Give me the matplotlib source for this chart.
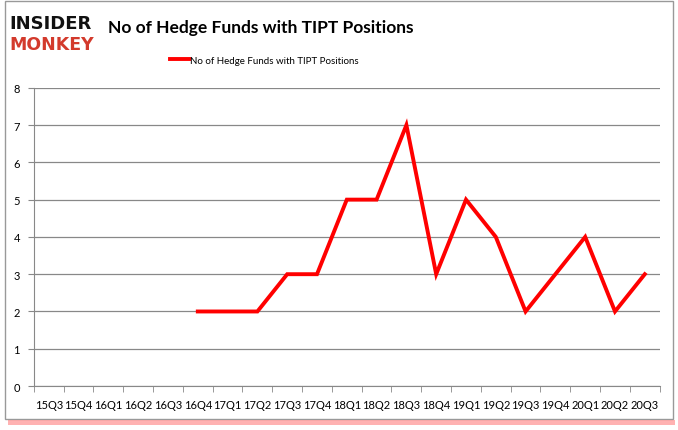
import matplotlib.pyplot as plt
from matplotlib.patches import Rectangle

# quarters on the x axis
quarters = ["15Q3", "15Q4", "16Q1", "16Q2", "16Q3", "16Q4", "17Q1", "17Q2", "17Q3",
            "17Q4", "18Q1", "18Q2", "18Q3", "18Q4", "19Q1", "19Q2", "19Q3", "19Q4",
            "20Q1", "20Q2", "20Q3"]
# hedge fund counts (no data before 16Q4)
funds = [None, None, None, None, None, 2, 2, 2, 3, 3, 5, 5, 7, 3, 5, 4, 2, 3, 4, 2, 3]

plt.rcParams['font.family'] = ['Lato', 'DejaVu Sans']

fig = plt.figure(figsize=(6.78, 4.31), dpi=100)
ax = fig.add_axes([0.050, 0.102, 0.923, 0.692])

xs = [i for i, v in enumerate(funds) if v is not None]
ys = [v for v in funds if v is not None]
line, = ax.plot(xs, ys, color="#ff0000", linewidth=2.8, solid_joinstyle="miter",
                label="No of Hedge Funds with TIPT Positions")

ax.set_xlim(-0.5, len(quarters) - 0.5)
ax.set_ylim(0, 8)
ax.set_yticks(range(0, 9))
ax.set_xticks(range(len(quarters)))
ax.set_xticklabels(quarters, fontsize=8)
ax.set_xticks([i - 0.5 for i in range(len(quarters) + 1)], minor=True)
ax.tick_params(axis="x", which="major", length=0, pad=9)
ax.tick_params(axis="x", which="minor", length=4, color="#888888")
ax.tick_params(axis="y", length=4, color="#888888", labelsize=8, pad=6)
ax.grid(axis="y", color="#888888", linewidth=0.9)
ax.set_axisbelow(True)
for side in ["top", "right"]:
    ax.spines[side].set_visible(False)
for side in ["left", "bottom"]:
    ax.spines[side].set_color("#888888")

fig.text(0.384, 0.935, "No of Hedge Funds with TIPT Positions", ha="center", va="center",
         fontsize=12.5, fontweight="bold")
fig.legend(handles=[line], loc="center", bbox_to_anchor=(0.39, 0.858), frameon=False,
           fontsize=7, handlelength=2.0, handletextpad=0.1)

# logo
fig.text(0.014, 0.945, "INSIDER", fontsize=13, fontweight="heavy", color="#111111",
         va="center", family="DejaVu Sans")
fig.text(0.014, 0.895, "MONKEY", fontsize=12.5, fontweight="heavy", color="#d33a2c",
         va="center", family="DejaVu Sans")

# outer frame with red shadow
fig.patches.append(Rectangle((0.008, 0.025), 0.985, 0.97, transform=fig.transFigure,
                             fill=False, edgecolor="#999999", linewidth=1))
fig.patches.append(Rectangle((0.012, 0.012), 0.983, 0.012, transform=fig.transFigure,
                             facecolor="#ff6666", edgecolor="none", alpha=0.5))

fig.savefig("out.png", dpi=100)
